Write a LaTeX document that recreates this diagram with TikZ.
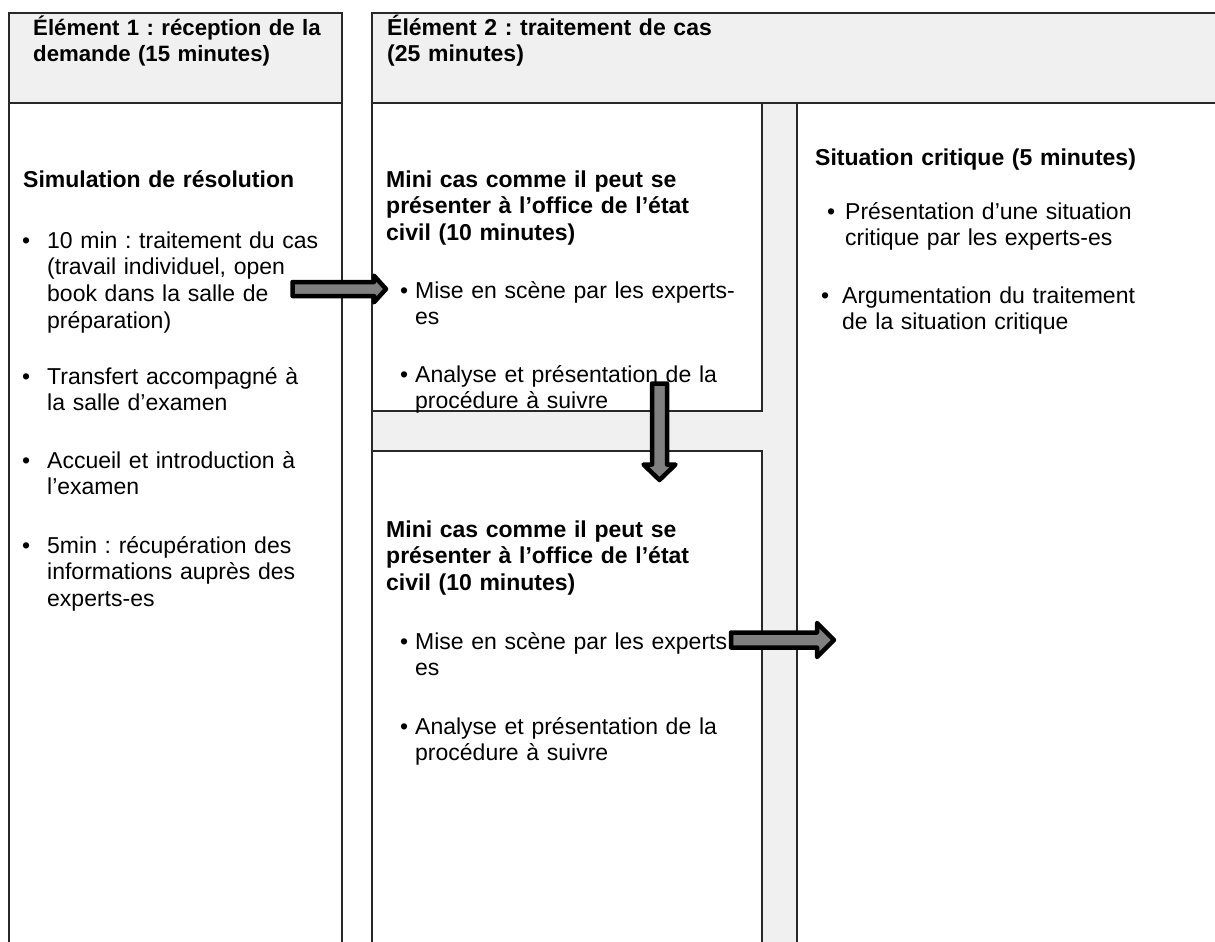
\documentclass[tikz,border=0pt]{standalone}
\usepackage{fontspec}
\setmainfont{Liberation Sans}
\frenchspacing
\definecolor{hdr}{RGB}{240,240,240}
\definecolor{rulecol}{RGB}{40,40,40}
\definecolor{arrfill}{RGB}{128,128,128}
\begin{document}
\begin{tikzpicture}[x=1pt,y=-1pt,
  rulestyle/.style={draw=rulecol, line width=1.3pt},
  txt/.style={anchor=base west, inner sep=0pt, align=left, text width=380pt, font=\fontsize{23}{26.8}\selectfont\frenchspacing},
  boldtxt/.style={anchor=base west, inner sep=0pt, align=left, text width=380pt, font=\fontsize{23}{26.8}\selectfont\bfseries\frenchspacing},
  bulletmark/.style={anchor=base west, inner sep=0pt, font=\fontsize{23}{26.8}\selectfont},
  blockarrow/.style={draw=black, fill=arrfill, line width=4.5pt, line join=round}]
\useasboundingbox (0,0) rectangle (1215,942);
\fill[white] (0,0) rectangle (1215,942);
% fills
\fill[hdr] (9,13) rectangle (342,103);
\fill[hdr] (372,13) rectangle (1215,103);
\fill[hdr] (372,411) rectangle (762,451);
\fill[hdr] (762,103) rectangle (797,942);
% rules
\draw[rulestyle] (9,942) -- (9,13) -- (342,13) -- (342,942);
\draw[rulestyle] (9,103) -- (342,103);
\draw[rulestyle] (372,942) -- (372,13) -- (1215,13);
\draw[rulestyle] (372,103) -- (1215,103);
\draw[rulestyle] (372,411) -- (762,411) -- (762,103);
\draw[rulestyle] (372,451) -- (762,451) -- (762,942);
\draw[rulestyle] (797,103) -- (797,942);

% headers
\node[boldtxt, font=\fontsize{22.2}{26}\selectfont\bfseries\frenchspacing] (h1) at (33,36) {Élément 1 : réception de la\\demande (15 minutes)};
\node[boldtxt, font=\fontsize{23}{26}\selectfont\bfseries\frenchspacing] (h2) at (387,36) {Élément 2 : traitement de cas\\(25 minutes)};

% left column
\node[boldtxt] (sim) at (23,187) {Simulation de résolution};
\node[bulletmark] (b1) at (22,248) {•};
\node[txt] (l1) at (47,248) {10 min : traitement du cas\\(travail individuel, open\\book dans la salle de\\préparation)};
\node[bulletmark] (b2) at (22,384) {•};
\node[txt] (l2) at (47,384) {Transfert accompagné à\\la salle d’examen};
\node[bulletmark] (b3) at (22,468) {•};
\node[txt] (l3) at (47,468) {Accueil et introduction à\\l’examen};
\node[bulletmark] (b4) at (22,553) {•};
\node[txt] (l4) at (47,553) {5min : récupération des\\informations auprès des\\experts-es};

% middle upper
\node[boldtxt] (m1) at (386,187) {Mini cas comme il peut se\\présenter à l’office de l’état\\civil (10 minutes)};
\node[bulletmark] (mb1) at (400,298) {•};
\node[txt] (m1a) at (415,298) {Mise en scène par les experts-\\es};
\node[bulletmark] (mb2) at (400,382) {•};
\node[txt] (m1b) at (415,382) {Analyse et présentation de la\\procédure à suivre};

% middle lower
\node[boldtxt] (m2) at (386,537) {Mini cas comme il peut se\\présenter à l’office de l’état\\civil (10 minutes)};
\node[bulletmark] (mb3) at (400,649) {•};
\node[txt] (m2a) at (415,649) {Mise en scène par les experts\\es};
\node[bulletmark] (mb4) at (400,734) {•};
\node[txt] (m2b) at (415,734) {Analyse et présentation de la\\procédure à suivre};

% right column
\node[boldtxt] (r1) at (815,165) {Situation critique (5 minutes)};
\node[bulletmark] (rb1) at (827,219) {•};
\node[txt] (r1a) at (845,219) {Présentation d’une situation\\critique par les experts-es};
\node[bulletmark] (rb2) at (821,303) {•};
\node[txt] (r1b) at (842,303) {Argumentation du traitement\\de la situation critique};

% arrows
\coordinate (a1s) at (292.5,289);
\coordinate (a1e) at (386,289);
\draw[blockarrow] (a1s) ++(0,-7) -- ++(81.5,0) -- ++(0,-6.3) -- (a1e) -- ++(-12,13.3) -- ++(0,-6.3) -- ++(-81.5,0) -- cycle;
\coordinate (a2s) at (659.5,383.5);
\coordinate (a2e) at (659.5,480);
\draw[blockarrow] (a2s) ++(-7.5,0) -- ++(0,81) -- ++(-8.5,0) -- (a2e) -- ++(16,-15.5) -- ++(-8.5,0) -- ++(0,-81) -- cycle;
\coordinate (a3s) at (731,640);
\coordinate (a3e) at (834,640);
\draw[blockarrow] (a3s) ++(0,-7.5) -- ++(86,0) -- ++(0,-9.5) -- (a3e) -- ++(-17,17) -- ++(0,-9.5) -- ++(-86,0) -- cycle;
\end{tikzpicture}
\end{document}
